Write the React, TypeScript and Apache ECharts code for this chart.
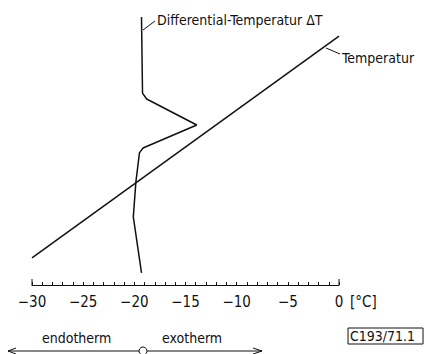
import React, { useEffect, useRef } from "react";
import * as echarts from "echarts";

// Differential-Temperatur ΔT curve: [temperature °C, time (relative units)]
const dtX = [-19.3, -19.2, -18.8, -13.9, -19.15, -19.5, -19.85, -20.1, -19.3];
const dtY = [100, 71.6, 69.4, 59.7, 51.1, 49.3, 38.4, 25.4, 4.5];
// Temperatur line
const tX = [-30, 0];
const tY = [10.1, 92.9];
const xTicks = [-30, -25, -20, -15, -10, -5, 0];

const FONT = "'DejaVu Sans Condensed', 'Liberation Sans Narrow', 'DejaVu Sans', sans-serif";

export default function App() {
  const ref = useRef<HTMLDivElement>(null);
  useEffect(() => {
    const chart = echarts.init(ref.current!, null, { renderer: "svg" });
    const ink = "#111";
    chart.setOption({
      animation: false,
      backgroundColor: "#fff",
      grid: { left: 32, right: 85, top: 17, bottom: 69 },
      xAxis: {
        type: "value",
        min: xTicks[0],
        max: xTicks[xTicks.length - 1],
        interval: 5,
        axisLine: { show: true, lineStyle: { color: ink, width: 1 } },
        axisTick: { show: true, inside: true, length: 3, lineStyle: { color: ink } },
        minorTick: { show: true, splitNumber: 5, length: 3, lineStyle: { color: ink } },
        splitLine: { show: false },
        axisLabel: {
          color: ink,
          fontFamily: FONT,
          fontSize: 15,
          margin: 9,
          formatter: (v: number) => (v < 0 ? "\u2212" + Math.abs(v) : String(v)),
        },
      },
      yAxis: { type: "value", min: 0, max: 100, show: false },
      series: [
        {
          type: "line",
          data: dtX.map((x, i) => [x, dtY[i]]),
          showSymbol: false,
          lineStyle: { color: ink, width: 1.5 },
        },
        {
          type: "line",
          data: tX.map((x, i) => [x, tY[i]]),
          showSymbol: false,
          lineStyle: { color: ink, width: 1.5 },
        },
      ],
      graphic: [
        { type: "line", shape: { x1: 32, y1: 285, x2: 32, y2: 279 }, style: { stroke: ink, lineWidth: 1 } },
        { type: "line", shape: { x1: 339, y1: 285, x2: 339, y2: 279 }, style: { stroke: ink, lineWidth: 1 } },
        { type: "text", left: 350, top: 294, style: { text: "[°C]", font: `15px ${FONT}`, fill: ink } },
        { type: "line", shape: { x1: 143, y1: 30, x2: 155, y2: 21 }, style: { stroke: ink, lineWidth: 1 } },
        { type: "text", left: 157, top: 13, style: { text: "Differential-Temperatur ΔT", font: `14px ${FONT}`, fill: ink } },
        { type: "line", shape: { x1: 326, y1: 48, x2: 340, y2: 54 }, style: { stroke: ink, lineWidth: 1 } },
        { type: "text", left: 342, top: 51, style: { text: "Temperatur", font: `14px ${FONT}`, fill: ink } },
        { type: "text", left: 42, top: 331, style: { text: "endotherm", font: `14px ${FONT}`, fill: ink } },
        { type: "text", left: 162, top: 331, style: { text: "exotherm", font: `14px ${FONT}`, fill: ink } },
        { type: "line", shape: { x1: 8, y1: 351, x2: 139, y2: 351 }, style: { stroke: ink, lineWidth: 1 } },
        { type: "polyline", shape: { points: [[16, 348], [8, 351], [16, 354]] }, style: { stroke: ink, fill: "none", lineWidth: 1 } },
        { type: "circle", shape: { cx: 143, cy: 351, r: 4 }, style: { stroke: ink, fill: "#fff", lineWidth: 1 } },
        { type: "line", shape: { x1: 147, y1: 351, x2: 262, y2: 351 }, style: { stroke: ink, lineWidth: 1.2 } },
        { type: "polyline", shape: { points: [[253, 348], [262, 351], [253, 354]] }, style: { stroke: ink, fill: "none", lineWidth: 1 } },
        { type: "rect", shape: { x: 348, y: 328, width: 75, height: 16 }, style: { stroke: ink, fill: "none", lineWidth: 1 } },
        { type: "text", left: 350, top: 329, style: { text: "C193/71.1", font: `14px ${FONT}`, fill: ink } },
      ],
    });
    return () => chart.dispose();
  }, []);
  return <div ref={ref} style={{ position: "fixed", left: 0, top: 0, width: 424, height: 354 }} />;
}
